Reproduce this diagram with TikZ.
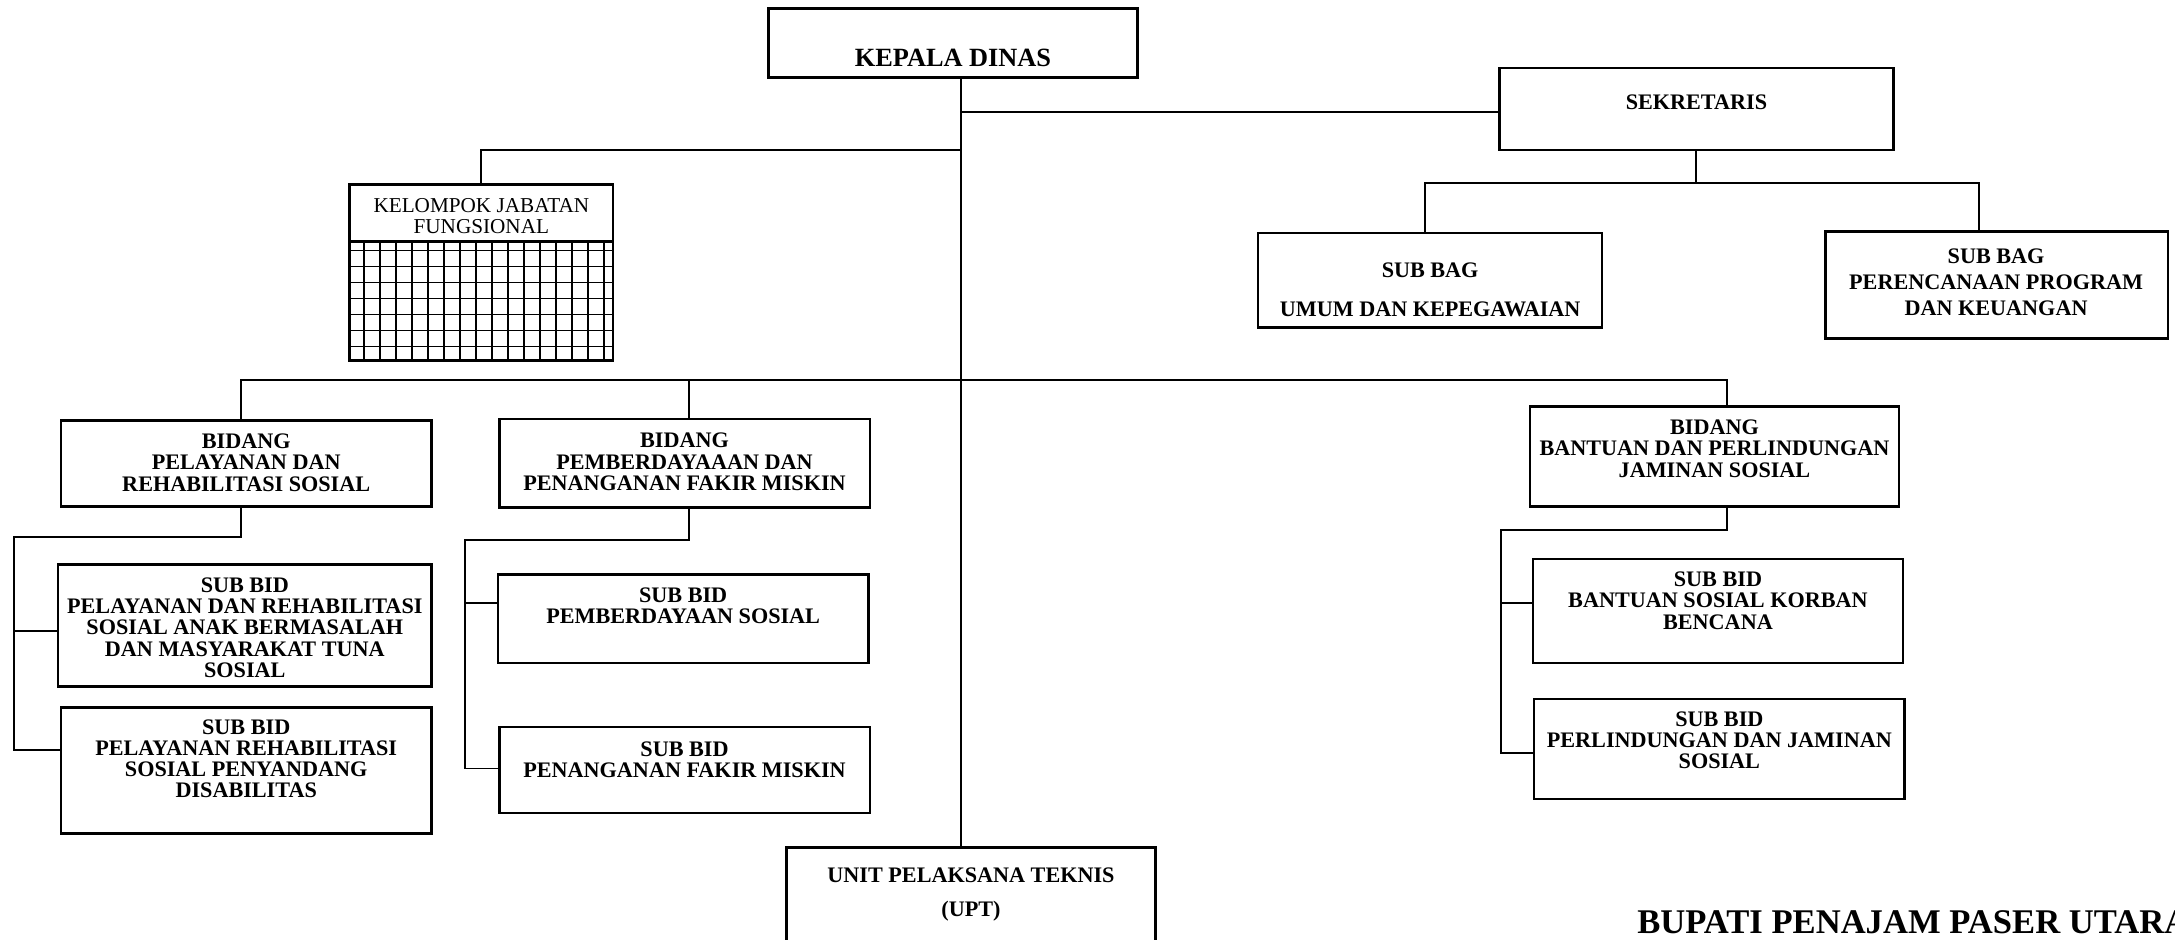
\documentclass[tikz,border=0pt]{standalone}
\usepackage{fontspec}
\setmainfont{Liberation Serif}
\usetikzlibrary{fit}
\def\boxfont{\fontsize{9.1}{8.7}\selectfont\bfseries}
\def\kjffont{\fontsize{8.7}{8.6}\selectfont}
\def\headfont{\fontsize{10.8}{12}\selectfont\bfseries}
\def\bupatifont{\fontsize{14.2}{16}\selectfont\bfseries}

\tikzset{
	box/.style={draw, line width=1pt, inner sep=0pt},
	txt/.style={align=center, inner sep=0pt, font=\boxfont},
	link/.style={line width=0.8pt},
	gridline/.style={line width=0.6pt}
}

\begin{document}
\begin{tikzpicture}[x=0.02cm, y=-0.02cm]
			%%%%% START %%%%%
			\useasboundingbox (0,0) rectangle (1568,677);
			
			\node[box, fit={(554,6) (820,56)}] (kd) {};
			\node[txt, font=\headfont] (kd-t) at (687,42) {KEPALA DINAS};
			
			\node[box, fit={(1081,49) (1365,108)}] (sek) {};
			\node[txt] (sek-t) at (1223,74) {SEKRETARIS};
			
			\node[box, fit={(907,168) (1155,236)}] (sbu) {};
			\node[txt] (sbu-t) at (1031,209) {SUB BAG\\[7.4pt]UMUM DAN KEPEGAWAIAN};
			
			\node[box, fit={(1316,167) (1563,244)}] (sbp) {};
			\node[txt, font=\fontsize{9.1}{10.5}\selectfont\bfseries] (sbp-t) at (1439,203.5) {SUB BAG\\PERENCANAAN PROGRAM\\DAN KEUANGAN};
			
			% kelompok jabatan fungsional
			\node[box, fit={(252,133) (442,260)}] (kjf) {};
			\node[txt, font=\kjffont] (kjf-t) at (347,155.5) {KELOMPOK JABATAN\\FUNGSIONAL};
			\draw[box] (252,174) -- (442,174);
			\begin{scope}
				\clip (252,174) rectangle (442,260);
				\foreach \gx in {0,...,15}
					\draw[gridline] ({262.3+\gx*11.54},174) -- ++(0,86);
				\foreach \gy in {0,...,6}
					\draw[gridline] (252,{180.7+\gy*11.54}) -- ++(190,0);
			\end{scope}
			
			% bidang
			\node[box, fit={(44,303) (311,365)}] (bprs) {};
			\node[txt] (bprs-t) at (177.5,333.5) {BIDANG\\PELAYANAN DAN\\REHABILITASI SOSIAL};
			
			\node[box, fit={(360,302) (627,366)}] (bppfm) {};
			\node[txt] (bppfm-t) at (493.5,333) {BIDANG\\PEMBERDAYAAAN DAN\\PENANGANAN FAKIR MISKIN};
			
			\node[box, fit={(1103,293) (1369,365)}] (bbpjs) {};
			\node[txt] (bbpjs-t) at (1236,323.5) {BIDANG\\BANTUAN DAN PERLINDUNGAN\\JAMINAN SOSIAL};
			
			% sub bidang
			\node[box, fit={(42,407) (311,495)}] (sp1) {};
			\node[txt] (sp1-t) at (176.5,452.5) {SUB BID\\PELAYANAN DAN REHABILITASI\\SOSIAL ANAK BERMASALAH\\DAN MASYARAKAT TUNA\\SOSIAL};
			
			\node[box, fit={(44,510) (311,601)}] (sp2) {};
			\node[txt] (sp2-t) at (177.5,547) {SUB BID\\PELAYANAN REHABILITASI\\SOSIAL PENYANDANG\\DISABILITAS};
			
			\node[box, fit={(359,414) (626,478)}] (sm1) {};
			\node[txt] (sm1-t) at (492.5,436.5) {SUB BID\\PEMBERDAYAAN SOSIAL};
			
			\node[box, fit={(360,524) (627,586)}] (sm2) {};
			\node[txt] (sm2-t) at (493.5,547.5) {SUB BID\\PENANGANAN FAKIR MISKIN};
			
			\node[box, fit={(1105,403) (1372,478)}] (sj1) {};
			\node[txt] (sj1-t) at (1238.5,433) {SUB BID\\BANTUAN SOSIAL KORBAN\\BENCANA};
			
			\node[box, fit={(1106,504) (1373,576)}] (sj2) {};
			\node[txt] (sj2-t) at (1239.5,533.5) {SUB BID\\PERLINDUNGAN DAN JAMINAN\\SOSIAL};
			
			\node[box, fit={(567,611) (833,700)}] (upt) {};
			\node[txt] (upt-t) at (700,645) {UNIT PELAKSANA TEKNIS\\[5.4pt](UPT)};
			
			\node[anchor=base west, inner sep=0pt, font=\bupatifont] (bupati) at (1180,673) {BUPATI PENAJAM PASER UTARA};
			
			% lines
			\coordinate (trk) at (693,300);
			\draw[link] (kd.south -| trk) -- (upt.north -| trk);
			
			\coordinate (jS) at (693,81);
			\draw[link] (jS) -- (jS -| sek.west);
			\coordinate (jK) at (693,108);
			\draw[link] (jK) -| (kjf.north);
			
			\coordinate (dU) at (1027,132);
			\coordinate (dP) at (1427,132);
			\draw[link] (sek.south) -- (sek.south |- dU);
			\draw[link] (dU |- sbu.north) -- (dU) -- (dP) -- (dP |- sbp.north);
			
			\coordinate (b1) at (174,274);
			\coordinate (b2) at (497,274);
			\coordinate (b3) at (1245,274);
			\draw[link] (b1 |- bprs.north) -- (b1) -- (b3) -- (b3 |- bbpjs.north);
			\draw[link] (b2) -- (b2 |- bppfm.north);
			
			\coordinate (r1) at (10,387);
			\coordinate (r2) at (10,455);
			\coordinate (r3) at (10,541);
			\draw[link] (b1 |- bprs.south) |- (r1) -- (r3) -- (r3 -| sp2.west);
			\draw[link] (r2) -- (r2 -| sp1.west);
			
			\coordinate (m1) at (335,389);
			\coordinate (m2) at (335,435);
			\coordinate (m3) at (335,554);
			\draw[link] (b2 |- bppfm.south) |- (m1) -- (m3) -- (m3 -| sm2.west);
			\draw[link] (m2) -- (m2 -| sm1.west);
			
			\coordinate (j1) at (1082,382);
			\coordinate (j2) at (1082,435);
			\coordinate (j3) at (1082,543);
			\draw[link] (b3 |- bbpjs.south) |- (j1) -- (j3) -- (j3 -| sj2.west);
			\draw[link] (j2) -- (j2 -| sj1.west);
			
			%%%%% END %%%%%
\end{tikzpicture}
\end{document}
